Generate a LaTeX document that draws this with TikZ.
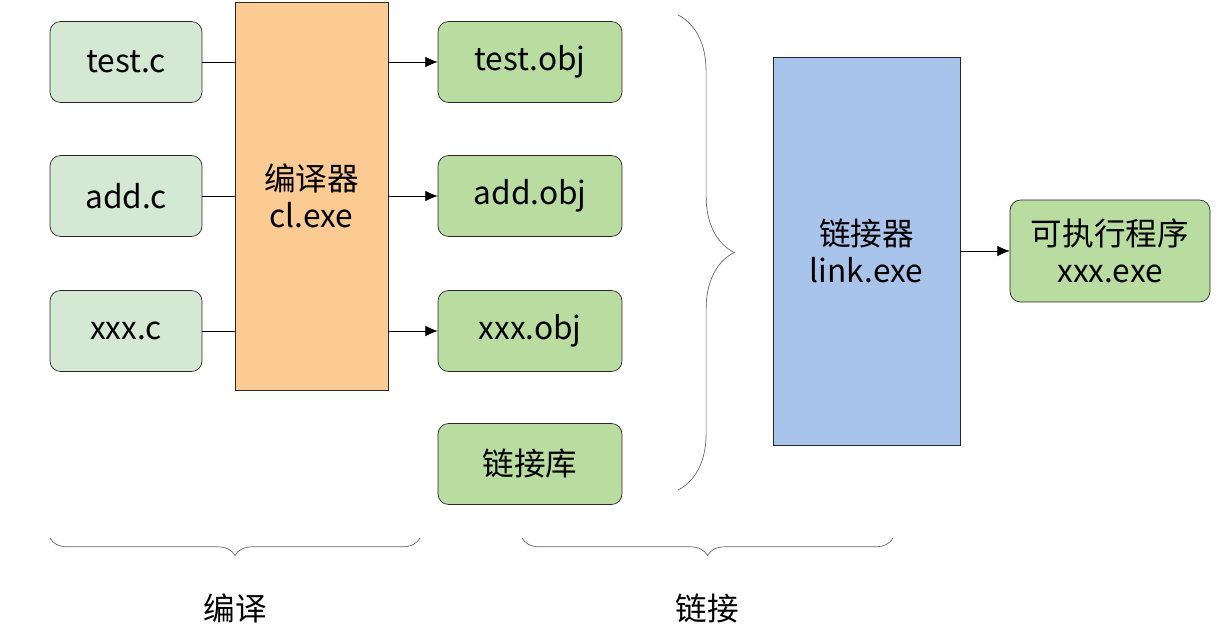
\documentclass[tikz,border=0pt]{standalone}
\usepackage{fontspec}
\setmainfont{Noto Sans CJK SC}
\usetikzlibrary{arrows.meta,decorations.pathreplacing}
\definecolor{srcfill}{HTML}{D5E8D4}
\definecolor{objfill}{HTML}{B9DDA0}
\definecolor{ccfill}{HTML}{FCCB94}
\definecolor{lkfill}{HTML}{A9C4EB}
\tikzset{
	line width=1pt,
	>={Latex[length=7pt,width=6pt]},
	block/.style={draw=black!85, rectangle, rounded corners=6pt, align=center, font=\fontsize{18}{21}\selectfont},
	brc/.style={draw=black!60, decorate, decoration={brace, amplitude=#1}}
}
\begin{document}
\begin{tikzpicture}[x=0.02cm,y=-0.02cm]
    \useasboundingbox (0,0) rectangle (1226,638);
    \node[block, fill=srcfill, minimum width=3.04cm, minimum height=1.62cm] at (126,62) (testc) {test.c};
    \node[block, fill=srcfill, minimum width=3.04cm, minimum height=1.62cm] at (126,196) (addc) {add.c};
    \node[block, fill=srcfill, minimum width=3.04cm, minimum height=1.62cm] at (126,331) (xxxc) {xxx.c};
    \node[block, fill=ccfill, rounded corners=0pt, minimum width=3.06cm, minimum height=7.76cm] at (311.5,196) (cl) {编译器\\cl.exe};
    \node[block, fill=objfill, minimum width=3.68cm, minimum height=1.62cm] at (530,62) (testobj) {test.obj};
    \node[block, fill=objfill, minimum width=3.68cm, minimum height=1.62cm] at (530,196) (addobj) {add.obj};
    \node[block, fill=objfill, minimum width=3.68cm, minimum height=1.62cm] at (530,331) (xxxobj) {xxx.obj};
    \node[block, fill=objfill, minimum width=3.68cm, minimum height=1.62cm] at (530,464) (lib) {链接库};
    \node[block, fill=lkfill, rounded corners=0pt, minimum width=3.74cm, minimum height=7.76cm] at (866.5,251) (link) {链接器\\link.exe};
    \node[block, fill=objfill, minimum width=4cm, minimum height=2.04cm] at (1110,251) (exe) {可执行程序\\xxx.exe};

    \draw (testc) -- (cl.west |- testc);
    \draw (addc) -- (cl.west |- addc);
    \draw (xxxc) -- (cl.west |- xxxc);
    \draw[->] (cl.east |- testobj) -- (testobj);
    \draw[->] (cl.east |- addobj) -- (addobj);
    \draw[->] (cl.east |- xxxobj) -- (xxxobj);
    \draw[->] (link) -- (exe);

    \coordinate (b1) at (678,15);
    \coordinate (b2) at (678,490);
    \draw[brc=32pt] (b1) -- (b2);
    \coordinate (c1) at (50,538);
    \coordinate (c2) at (420,538);
    \draw[brc=10pt, decoration={mirror}] (c1) -- (c2);
    \coordinate (d1) at (522,538);
    \coordinate (d2) at (893,538);
    \draw[brc=10pt, decoration={mirror}] (d1) -- (d2);
    \node[font=\fontsize{18}{21}\selectfont] at (235,608) (lbl1) {编译};
    \node[font=\fontsize{18}{21}\selectfont] at (707,608) (lbl2) {链接};
\end{tikzpicture}
\end{document}
